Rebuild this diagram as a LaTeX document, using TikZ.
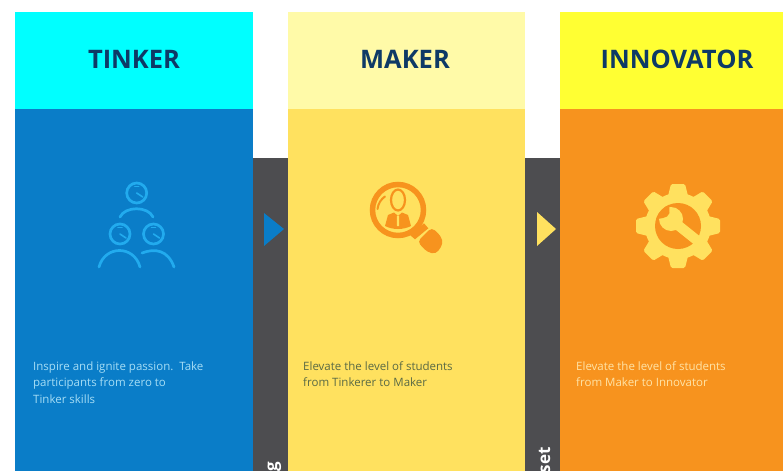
\documentclass[tikz,border=0pt]{standalone}
\usepackage{fontspec}
\setmainfont{Open Sans}
\definecolor{cyanhead}{HTML}{00FFFF}
\definecolor{bluebody}{HTML}{0A7DC8}
\definecolor{iconblue}{HTML}{22ABEE}
\definecolor{paleyellow}{HTML}{FFFAA8}
\definecolor{yellowbody}{HTML}{FFE15F}
\definecolor{yellowhead}{HTML}{FFFF33}
\definecolor{orangebody}{HTML}{F7931E}
\definecolor{darkbar}{HTML}{4D4D50}
\definecolor{titleblue}{HTML}{0E3A66}
\definecolor{paleblue}{HTML}{A5DDF5}
\definecolor{paleorange}{HTML}{FFE3A6}
\definecolor{makertext}{HTML}{5A6A45}
\tikzset{
 x=1pt,y=-1pt,
 panel/.style={fill=#1,draw=none},
 title/.style={font=\fontsize{25.5}{25.5}\selectfont\bfseries,text=titleblue,anchor=center,inner sep=0pt},
 desc/.style={font=\fontsize{11.5}{16.3}\selectfont,anchor=north west,align=left,inner sep=0pt},
 bartext/.style={font=\fontsize{17}{17}\selectfont\bfseries,text=white,rotate=90,inner sep=0pt,anchor=base east},
 person/.style={draw=iconblue,line width=2.7pt,line cap=round,fill=none},
 dial/.style={draw=iconblue,line width=1.6pt,line cap=round},
}
\begin{document}
\begin{tikzpicture}
\useasboundingbox (0,0) rectangle (783,471);
\clip (0,0) rectangle (783,471);
\fill[white] (0,0) rectangle (783,471);
% bars
\fill[panel=darkbar] (253,158) rectangle (288,471);
\fill[panel=darkbar] (525,158) rectangle (560,471);
% columns
\fill[panel=cyanhead] (15,12) rectangle (253,109);
\fill[panel=bluebody] (15,109) rectangle (253,471);
\fill[panel=paleyellow] (288,12) rectangle (525,109);
\fill[panel=yellowbody] (288,109) rectangle (525,471);
\fill[panel=yellowhead] (560,12) rectangle (783,109);
\fill[panel=orangebody] (560,109) rectangle (783,471);
% titles
\node[title] (t1) at (134,59.5) {TINKER};
\node[title] (t2) at (405,59.5) {MAKER};
\node[title] (t3) at (677,59.5) {INNOVATOR};
% arrows
\fill[bluebody] (264,213) -- (284,229) -- (264,246) -- cycle;
\fill[yellowbody] (537,212) -- (556,229) -- (537,246) -- cycle;
% bar text
\node[bartext] (b1) at (277,462) {g};
\node[bartext] (b2) at (550,447) {set};
% descriptions
\node[desc,text=paleblue] (d1) at (33,361.5) {Inspire and ignite passion.~~Take\\participants from zero to\\Tinker skills};
\node[desc,text=makertext] (d2) at (303,361.5) {Elevate the level of students\\from Tinkerer to Maker};
\node[desc,text=paleorange] (d3) at (576,361.5) {Elevate the level of students\\from Maker to Innovator};
% tinker icon
\foreach \cx/\cy in {136.7/193,120/234,153.5/234}{
  \draw[person] (\cx,\cy) circle (10);
  \draw[dial] (\cx,\cy) -- ++(6,4);
  \draw[dial] (\cx-2,\cy-6.5) -- ++(4,0);
}
\draw[person] (120,217) .. controls (125,206) and (148,206) .. (153,217);
\draw[person] (99,267) .. controls (105,245) and (134,245) .. (140,267);
\draw[person] (142,253) .. controls (155,248) and (168,250) .. (174,267);
% maker icon
\draw[orangebody,line width=5.5pt] (398,210) circle (25.5);
\fill[orangebody] (410,235) -- (424,223.3) -- (428.3,228.3) -- (415,239.3) -- cycle;
\fill[orangebody,rounded corners=4pt] (417.5,241.7) -- (431.7,227.5) -- (441,236) -- (443,244) -- (436,254) -- (427,252) -- cycle;
\draw[orangebody,line width=2pt,line cap=round] (377.5,209) .. controls (378,204) and (381,199) .. (385,196.5);
\draw[orangebody,line width=2.2pt] (398,200) ellipse (7 and 10.5);
\fill[orangebody] (385,226) -- (388,215) -- (394,212.5) -- (398,216) -- (402,212.5) -- (408,215) -- (411,226) .. controls (403,230) and (393,230) .. (385,226) -- cycle;
\fill[yellowbody] (396.8,216) -- (399.2,216) -- (399,226) -- (397,226) -- cycle;
% gear
\begin{scope}[shift={(678,226)}]
  \foreach \a in {0,45,...,315}{
    \fill[yellowbody,rotate=\a,rounded corners=1.5pt] (-10.5,-28) -- (-7,-42) -- (7,-42) -- (10.5,-28) -- cycle;
  }
  \fill[yellowbody] (0,0) circle (33);
  \fill[orangebody] (0,0) circle (23);
  % wrench
  \begin{scope}
    \clip (0,0) circle (30);
    \draw[yellowbody,line width=10pt] (-4,-4) -- (26,20);
  \end{scope}
  \fill[yellowbody] (-7,-7) circle (12);
  \begin{scope}
    \clip (0,0) circle (23);
    \fill[orangebody] (-9,-23) -- (-8.5,-13) -- (-11,-9.5) -- (-15,-8) -- (-23,-6.5) -- (-23,-23) -- cycle;
  \end{scope}
\end{scope}
\end{tikzpicture}
\end{document}
